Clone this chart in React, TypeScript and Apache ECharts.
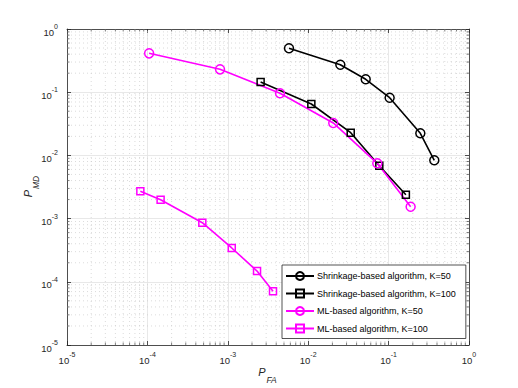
import React, { useEffect, useRef } from "react";
import * as echarts from "echarts";

const shrink50X = [0.00577, 0.0251, 0.0519, 0.103, 0.248, 0.37];
const shrink50Y = [0.495, 0.272, 0.16, 0.0818, 0.0224, 0.00836];
const shrink100X = [0.00256, 0.01094, 0.0338, 0.0766, 0.164];
const shrink100Y = [0.145, 0.0651, 0.0229, 0.00687, 0.00239];
const ml50X = [1.05e-4, 8.0e-4, 0.00446, 0.0205, 0.0723, 0.188];
const ml50Y = [0.412, 0.23, 0.0961, 0.0326, 0.0075, 0.00154];
const ml100X = [8.17e-5, 1.46e-4, 4.82e-4, 1.12e-3, 2.31e-3, 3.65e-3];
const ml100Y = [2.7e-3, 1.99e-3, 8.61e-4, 3.43e-4, 1.48e-4, 7.08e-5];
const seriesNames = [
  "Shrinkage-based algorithm, K=50",
  "Shrinkage-based algorithm, K=100",
  "ML-based algorithm, K=50",
  "ML-based algorithm, K=100",
];
const decades = [-5, -4, -3, -2, -1];
const minorMultipliers = [2, 3, 4, 5, 6, 7, 8, 9];
const xName = ["P", "FA"];
const yName = ["P", "MD"];

const AXIS = "#262626";
const FONT = "Liberation Sans, Arial, sans-serif";

function zip(xs: number[], ys: number[]) {
  return xs.map((x, i) => [x, ys[i]]);
}

const minorValues: number[] = [];
decades.forEach((d) => minorMultipliers.forEach((m) => minorValues.push(m * Math.pow(10, d))));

const tickLabel = (v: number) => `{b|10}{s|${Math.round(Math.log10(v))}}`;
const labelRich = {
  b: { fontSize: 9.5, fontFamily: FONT, color: AXIS, lineHeight: 14, verticalAlign: "bottom" },
  s: { fontSize: 7, fontFamily: FONT, color: AXIS, lineHeight: 8, verticalAlign: "top" },
};

export default function App() {
  const ref = useRef<HTMLDivElement>(null);
  useEffect(() => {
    if (!ref.current) return;
    const chart = echarts.init(ref.current, undefined, { renderer: "svg" });
    const baseLog = {
      type: "log" as const,
      logBase: 10,
      min: 1e-5,
      max: 1,
    };
    const line = (name: string, data: number[][], color: string, symbol: string, size: number) => ({
      name,
      type: "line",
      data,
      z: 5,
      symbol,
      symbolSize: size,
      showSymbol: true,
      lineStyle: { color, width: 1.6 },
      itemStyle: { color: "rgba(255,255,255,0)", borderColor: color, borderWidth: 1.5 },
      emphasis: { disabled: true },
    });
    const nameStyle = (size: number) => ({
      fontSize: size,
      fontStyle: "italic",
      fontFamily: FONT,
      fill: AXIS,
      align: "center",
      verticalAlign: "middle",
    });
    chart.setOption({
      animation: false,
      backgroundColor: "#fff",
      grid: { left: 67, top: 29, width: 402, height: 316, containLabel: false },
      xAxis: [
        {
          ...baseLog,
          position: "bottom",
          axisLine: { show: true, lineStyle: { color: AXIS, width: 0.8 } },
          axisTick: { show: true, inside: true, length: 4, lineStyle: { color: AXIS, width: 0.8 } },
          axisLabel: { formatter: tickLabel, rich: labelRich, margin: 6 },
          splitLine: { show: true, lineStyle: { color: "#e2e2e2", width: 0.8 } },
          minorTick: { show: false },
        },
        {
          ...baseLog,
          position: "top",
          axisLine: { show: true, onZero: false, lineStyle: { color: AXIS, width: 0.8 } },
          axisTick: { show: true, inside: true, length: 4, lineStyle: { color: AXIS, width: 0.8 } },
          axisLabel: { show: false },
          splitLine: { show: false },
        },
      ],
      yAxis: [
        {
          ...baseLog,
          position: "left",
          axisLine: { show: true, lineStyle: { color: AXIS, width: 0.8 } },
          axisTick: { show: true, inside: true, length: 4, lineStyle: { color: AXIS, width: 0.8 } },
          axisLabel: { formatter: tickLabel, rich: labelRich, margin: 9, padding: [2, 0, 0, 0] },
          splitLine: { show: true, lineStyle: { color: "#e2e2e2", width: 0.8 } },
        },
        {
          ...baseLog,
          position: "right",
          axisLine: { show: true, onZero: false, lineStyle: { color: AXIS, width: 0.8 } },
          axisTick: { show: true, inside: true, length: 4, lineStyle: { color: AXIS, width: 0.8 } },
          axisLabel: { show: false },
          splitLine: { show: false },
        },
      ],
      graphic: [
        { type: "text", x: 262, y: 372, style: { text: xName[0], ...nameStyle(11) } },
        { type: "text", x: 271.5, y: 380, style: { text: xName[1], ...nameStyle(8.5) } },
        { type: "text", x: 28, y: 193.5, rotation: Math.PI / 2, style: { text: yName[0], ...nameStyle(11) } },
        { type: "text", x: 35.5, y: 182.5, rotation: Math.PI / 2, style: { text: yName[1], ...nameStyle(8.5) } },
      ],
      legend: {
        data: seriesNames,
        orient: "vertical",
        left: 282,
        top: 265,
        width: 181,
        backgroundColor: "#fff",
        borderColor: AXIS,
        borderWidth: 0.8,
        borderRadius: 0,
        padding: [6, 10, 5, 3],
        itemWidth: 28,
        itemHeight: 10,
        itemGap: 7.5,
        textStyle: { fontSize: 9, fontFamily: FONT, color: "#000", lineHeight: 10, padding: [0, 0, 0, -2] },
        selectedMode: false,
      },
      series: [
        {
          type: "custom",
          name: "minorX",
          z: 1,
          silent: true,
          data: minorValues.map((v) => [v, 1e-2]),
          renderItem: (params: any, api: any) => {
            const p = api.coord([api.value(0), api.value(1)]);
            const cs = params.coordSys;
            const x = p[0];
            return {
              type: "group",
              children: [
                { type: "line", shape: { x1: x, y1: cs.y, x2: x, y2: cs.y + cs.height }, style: { stroke: "#cccccc", lineWidth: 0.7, lineDash: [1, 3] } },
                { type: "line", shape: { x1: x, y1: cs.y + cs.height, x2: x, y2: cs.y + cs.height - 2.5 }, style: { stroke: AXIS, lineWidth: 0.6 } },
                { type: "line", shape: { x1: x, y1: cs.y, x2: x, y2: cs.y + 2.5 }, style: { stroke: AXIS, lineWidth: 0.6 } },
              ],
            };
          },
        },
        {
          type: "custom",
          name: "minorY",
          z: 1,
          silent: true,
          data: minorValues.map((v) => [1e-2, v]),
          renderItem: (params: any, api: any) => {
            const p = api.coord([api.value(0), api.value(1)]);
            const cs = params.coordSys;
            const y = p[1];
            return {
              type: "group",
              children: [
                { type: "line", shape: { x1: cs.x, y1: y, x2: cs.x + cs.width, y2: y }, style: { stroke: "#cccccc", lineWidth: 0.7, lineDash: [1, 3] } },
                { type: "line", shape: { x1: cs.x, y1: y, x2: cs.x + 2.5, y2: y }, style: { stroke: AXIS, lineWidth: 0.6 } },
                { type: "line", shape: { x1: cs.x + cs.width, y1: y, x2: cs.x + cs.width - 2.5, y2: y }, style: { stroke: AXIS, lineWidth: 0.6 } },
              ],
            };
          },
        },
        line(seriesNames[0], zip(shrink50X, shrink50Y), "#000000", "circle", 9),
        line(seriesNames[1], zip(shrink100X, shrink100Y), "#000000", "rect", 7),
        line(seriesNames[2], zip(ml50X, ml50Y), "#ff00ff", "circle", 9),
        line(seriesNames[3], zip(ml100X, ml100Y), "#ff00ff", "rect", 7),
      ],
    });
    return () => chart.dispose();
  }, []);
  return (
    <div
      ref={ref}
      style={{ position: "fixed", left: 0, top: 0, width: 518, height: 388, background: "#fff" }}
    />
  );
}
